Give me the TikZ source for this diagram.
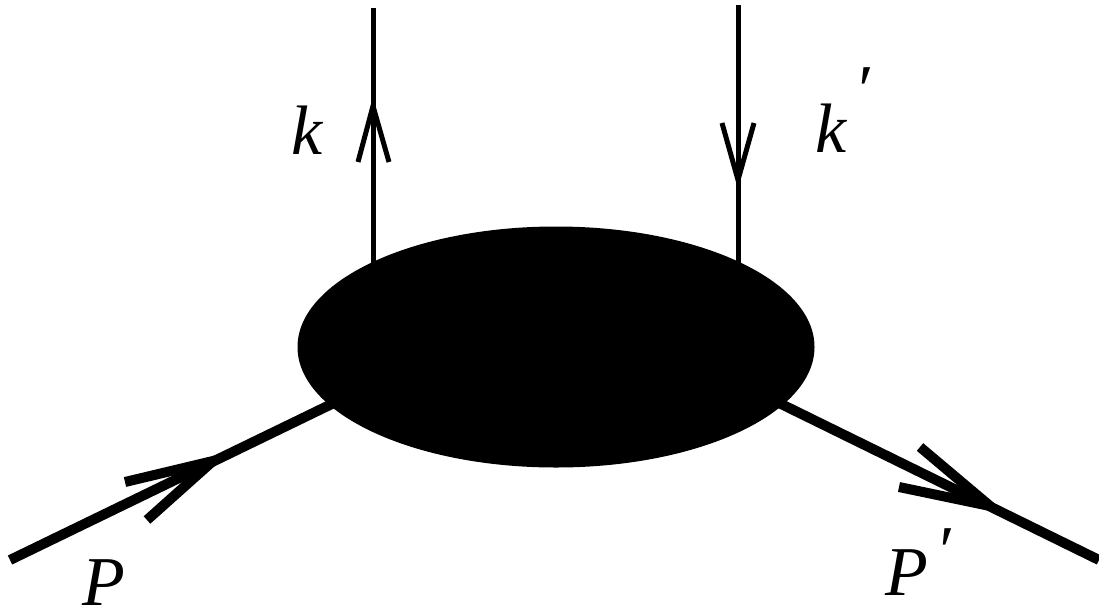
\documentclass[tikz,border=0pt]{standalone}
\usepackage{fontspec}
\setmainfont{Liberation Serif}
\usetikzlibrary{shapes.geometric}
\tikzset{
  thinline/.style={line width=5pt},
  thickline/.style={line width=10pt},
  chev/.style={line join=miter, miter limit=10},
  lab/.style={font=\fontsize{70}{70}\selectfont\itshape, inner sep=0pt}
}
\begin{document}
\begin{tikzpicture}[x=1pt,y=-1pt]
\useasboundingbox (0,0) rectangle (1099,613);
\node (blob) at (556,347) [ellipse, fill=black, draw=none, minimum width=517pt, minimum height=241pt, inner sep=0pt] {};
% top lines
\coordinate (kt) at (373,8);
\coordinate (kb) at (373,275);
\coordinate (kpt) at (738,5);
\coordinate (kpb) at (738,275);
\draw[thinline] (kb) -- (kt);
\draw[thinline] (kpt) -- (kpb);
\draw[thinline,chev] (358,162) -- (373,106) -- (389,162);
\draw[thinline,chev] (722,123) -- (738,180) -- (754,123);
% bottom lines
\coordinate (pin) at (10,560);
\coordinate (pinb) at (340,400);
\coordinate (pout) at (1099,560);
\coordinate (poutb) at (773,400);
\draw[thickline] (pin) -- (pinb);
\draw[thickline] (poutb) -- (pout);
\draw[thickline,chev] (125,482) -- (213,461) -- (147,520);
\draw[thickline,chev] (899,487) -- (990,506) -- (920,447);
% labels
\node[lab] (lk) at (307,130) {k};
\node[lab, anchor=base west] (lkp) at (815,152) {k\raisebox{0.55em}{\kern0.12em′}};
\node[lab] (lp) at (104,583) {P};
\node[lab] (lpp) at (918,562) {P\raisebox{0.3em}{\kern0.1em′}};
\end{tikzpicture}
\end{document}
